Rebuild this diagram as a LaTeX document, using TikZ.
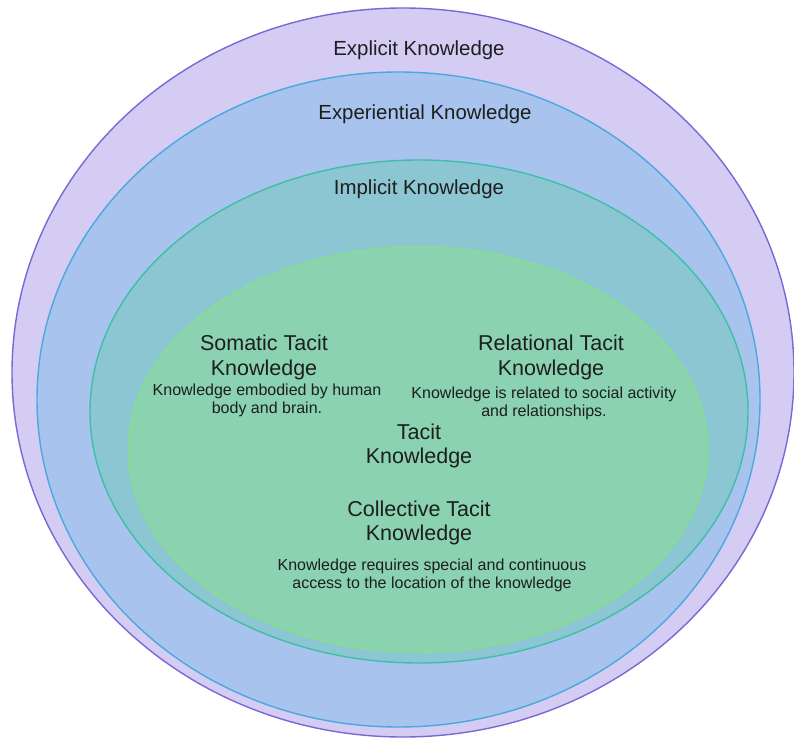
\documentclass[tikz,border=0pt]{standalone}
\usepackage{fontspec}
\setmainfont{Liberation Sans}
\definecolor{expfill}{HTML}{D4CCF2}
\definecolor{expline}{HTML}{7A68D6}
\definecolor{experfill}{HTML}{A8C4EE}
\definecolor{experline}{HTML}{4AA8E0}
\definecolor{impfill}{HTML}{8CC6D2}
\definecolor{impline}{HTML}{3EBFA6}
\definecolor{tacfill}{HTML}{8AD2B0}
\definecolor{tacline}{HTML}{86E08A}
\definecolor{txt}{HTML}{1E1E1E}
\tikzset{
  ring/.style={line width=1.4pt},
  biglabel/.style={text=txt, font=\fontsize{20.4}{24}\selectfont, inner sep=0pt},
  innerlabel/.style={text=txt, font=\fontsize{21.5}{24.5}\selectfont, align=center, inner sep=0pt},
  desc/.style={text=txt, font=\fontsize{16}{18.2}\selectfont, align=center, inner sep=0pt}
}
\begin{document}
\begin{tikzpicture}[x=1pt,y=-1pt]
\useasboundingbox (0,0) rectangle (794,738);
\fill[white] (0,0) rectangle (794,738);
\draw[ring, draw=expline, fill=expfill] (403,372.5) ellipse [x radius=391, y radius=364.5];
\draw[ring, draw=experline, fill=experfill] (398.5,399.5) ellipse [x radius=361.5, y radius=327.5];
\draw[ring, draw=impline, fill=impfill] (419,411.5) ellipse [x radius=329, y radius=251.5];
\draw[ring, draw=tacline, fill=tacfill] (418,449.5) ellipse [x radius=289.5, y radius=202.5];

\node[biglabel] (explicit) at (419,50) {Explicit Knowledge};
\node[biglabel] (experiential) at (425,114) {Experiential Knowledge};
\node[biglabel] (implicit) at (419,189) {Implicit Knowledge};

\node[innerlabel] (somatic) at (264,357.5) {Somatic Tacit\\Knowledge};
\node[desc] (somaticd) at (267,400.5) {Knowledge embodied by human\\body and brain.};
\node[innerlabel] (relational) at (551,357.5) {Relational Tacit\\Knowledge};
\node[desc] (relationald) at (544,403) {Knowledge is related to social activity\\and relationships.};
\node[innerlabel] (tacit) at (419,446) {Tacit\\Knowledge};
\node[innerlabel] (collective) at (419,523) {Collective Tacit\\Knowledge};
\node[desc] (collectived) at (432,575.5) {Knowledge requires special and continuous\\access to the location of the knowledge};
\end{tikzpicture}
\end{document}
